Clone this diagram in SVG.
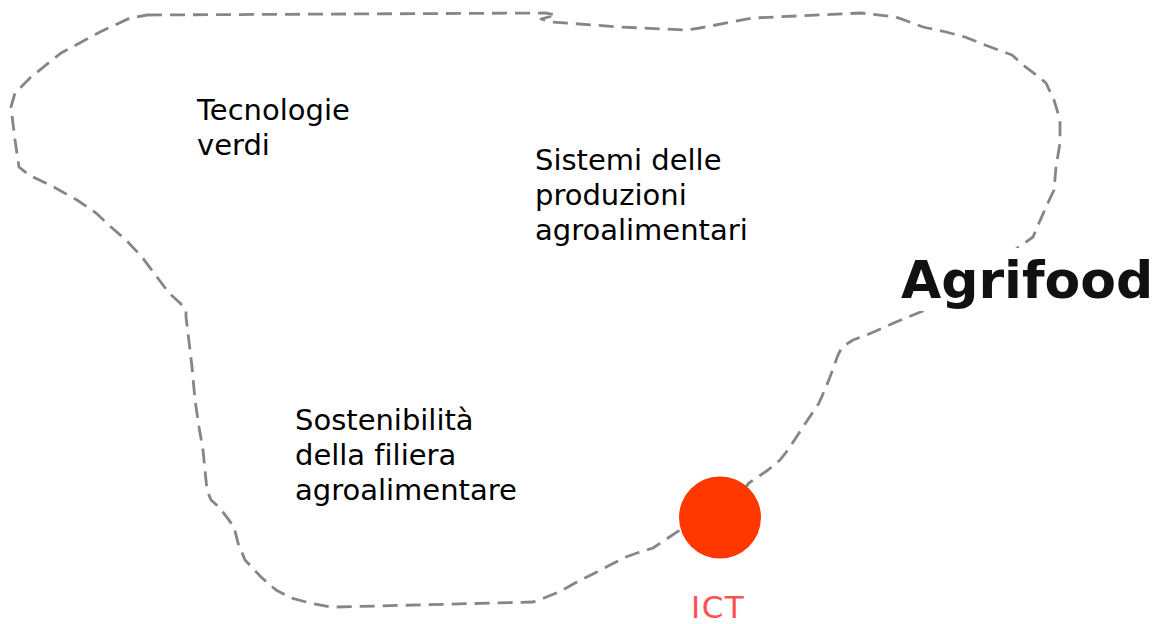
<svg xmlns="http://www.w3.org/2000/svg" width="1162" height="624" viewBox="0 0 1162 624">
  <style>
    text { font-variant-ligatures: none; }
    .lbl { font-family: "DejaVu Sans", Verdana, sans-serif; font-size: 29px; fill: #000; }
    .title { font-family: "DejaVu Sans", Verdana, sans-serif; font-size: 52px; font-weight: bold; fill: #111; }
    .ict { font-family: "DejaVu Sans", Verdana, sans-serif; font-size: 31px; letter-spacing: 1.5px; fill: #ff4f4f; }
    .boundary { fill: none; stroke: #81888d; stroke-width: 2.8; stroke-dasharray: 15 8; stroke-linejoin: round; stroke-linecap: butt; }
  </style>
  <rect width="1162" height="624" fill="#fff"/>
  <g id="connectors">
    <path class="boundary" d="M 147 15 L 545 13 L 556 15 L 541 19 L 552 22 L 620 27 L 687 30 L 700 28 L 753 18 L 861 13 L 896 17 L 923 27 L 946 32 L 965 37 L 985 45 L 1012 55 L 1023 65 L 1039 77 L 1046 83 L 1054 100 L 1060 120 L 1060 143 L 1056 167 L 1054 190 L 1046 207 L 1039 223 L 1033 237 L 1019 247 L 923 311 L 896 322 L 869 334 L 853 340 L 842 347 L 838 355 L 830 377 L 826 387 L 819 403 L 803 427 L 788 450 L 780 460 L 768 470 L 749 483 L 720 517 L 680 530 L 668 538 L 653 548 L 637 553 L 626 557 L 614 563 L 595 573 L 575 583 L 559 592 L 544 598 L 533 602 L 337 607 L 330 607 L 310 603 L 291 598 L 276 590 L 261 577 L 245 560 L 238 543 L 234 527 L 220 508 L 211 500 L 207 490 L 203 450 L 199 427 L 195 400 L 192 367 L 188 333 L 186 317 L 186 310 L 180 303 L 169 293 L 157 277 L 142 257 L 126 240 L 111 227 L 96 213 L 77 200 L 50 185 L 29 175 L 19 167 L 15 140 L 11 107 L 15 93 L 31 77 L 61 53 L 100 32 L 130 18 Z"/>
  </g>
  <g id="node-tecnologie-verdi">
    <text class="lbl" x="197" y="120">Tecnologie</text>
    <text class="lbl" x="197" y="155">verdi</text>
  </g>
  <g id="node-sistemi">
    <text class="lbl" x="535" y="170">Sistemi delle</text>
    <text class="lbl" x="535" y="205">produzioni</text>
    <text class="lbl" x="535" y="240">agroalimentari</text>
  </g>
  <g id="node-sostenibilita">
    <text class="lbl" x="295" y="430">Sostenibilità</text>
    <text class="lbl" x="295" y="465">della filiera</text>
    <text class="lbl" x="295" y="500">agroalimentare</text>
  </g>
  <g id="node-agrifood">
    <rect x="898" y="248" width="264" height="63" fill="#fff"/>
    <text class="title" x="901" y="298">Agrifood</text>
  </g>
  <g id="node-ict">
    <circle cx="720" cy="517.5" r="41" fill="#ff3800"/>
    <text class="ict" x="691" y="618">ICT</text>
  </g>
</svg>
